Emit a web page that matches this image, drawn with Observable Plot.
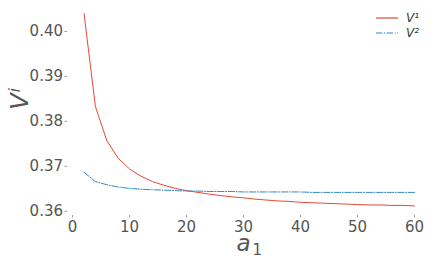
<!DOCTYPE html>
<html>
<head>
<meta charset="utf-8">
<script src="https://cdn.jsdelivr.net/npm/d3@7"></script>
<script src="https://cdn.jsdelivr.net/npm/@observablehq/plot@0.6"></script>
<style>
  html, body { margin: 0; padding: 0; background: #fff; }
  #wrap { position: relative; width: 435px; height: 262px; font-family: "DejaVu Sans", sans-serif; }
  #legend { position: absolute; left: 376px; top: 10px; font-size: 12px; font-style: italic; color: #333; }
  #legend .row { display: flex; align-items: center; height: 15px; }
  #legend svg { margin-right: 8px; }
</style>
</head>
<body>
<div id="wrap"></div>
<script>
const a1 = [2,4,6,8,10,12,14,16,18,20,22,24,26,28,30,32,34,36,38,40,42,44,46,48,50,52,54,56,58,60];
const v1 = [0.4040,0.3833,0.3757,0.3718,0.3694,0.3678,0.3666,0.3658,0.3651,0.3646,
            0.3642,0.3638,0.3635,0.3632,0.3630,0.3627,0.3625,0.3623,0.3622,0.3620,
            0.3619,0.3618,0.3617,0.3616,0.3615,0.3614,0.3614,0.3613,0.3613,0.3612];
const v2 = [0.3687,0.3666,0.3659,0.3654,0.3651,0.3649,0.3648,0.3647,0.3646,0.3645,
            0.3645,0.3644,0.3644,0.3644,0.3643,0.3643,0.3643,0.3643,0.3643,0.3643,
            0.3642,0.3642,0.3642,0.3642,0.3642,0.3642,0.3642,0.3642,0.3642,0.3642];
const xTicks = [0,10,20,30,40,50,60];
const yTicks = [0.36,0.37,0.38,0.39,0.40];
const seriesNames = ["V¹","V²"];
const colors = ["#E24A33","#348ABD"];
const yLabel = ["V", "i"];   // base, superscript
const xLabel = ["a", "1"];   // base, subscript

const d1 = a1.map((x,i)=>({x, y: v1[i]}));
const d2 = a1.map((x,i)=>({x, y: v2[i]}));

const chart = Plot.plot({
  width: 435, height: 262,
  marginLeft: 67, marginRight: 4.5, marginTop: 3.4, marginBottom: 47,
  style: {fontFamily: "DejaVu Sans, sans-serif", background: "#fff"},
  x: {domain: [-0.9, 62.9], axis: null},
  y: {domain: [0.35906, 0.40614], axis: null},
  marks: [
    Plot.axisX({ticks: xTicks, tickSize: 2.5, tickPadding: 3, fontSize: 15, color: "#555", stroke: "#999", label: null}),
    Plot.axisY({ticks: yTicks, tickFormat: d3.format(".2f"), tickSize: 2.5, tickPadding: 2, fontSize: 15, color: "#555", stroke: "#999", label: null}),
    Plot.line(d1, {x: "x", y: "y", stroke: colors[0], strokeWidth: 1}),
    Plot.line(d2, {x: "x", y: "y", stroke: colors[1], strokeWidth: 1, strokeDasharray: "6.4,1.6,1,1.6"}),
    Plot.text([yLabel.join("")], {frameAnchor: "left", dx: -47, rotate: -90, fontSize: 24, fontStyle: "italic", fill: "#555", className: "ylab"}),
    Plot.text([xLabel.join("")], {frameAnchor: "bottom", dy: 35, fontSize: 23, fontStyle: "italic", fill: "#555", className: "xlab"})
  ]
});
const wrap = document.getElementById("wrap");
wrap.appendChild(chart);

// rich text for axis labels
const yt = d3.select(chart).select(".ylab text");
yt.text(null);
yt.append("tspan").text(yLabel[0]);
yt.append("tspan").attr("font-size", 15).attr("dy", "-0.55em").attr("dx", "1").text(yLabel[1]);

const xt = d3.select(chart).select(".xlab text");
xt.text(null);
xt.append("tspan").text(xLabel[0]);
xt.append("tspan").attr("font-size", 15).attr("font-style", "normal").attr("dy", "0.3em").attr("dx", "2").text(xLabel[1]);

const legend = document.createElement("div");
legend.id = "legend";
seriesNames.forEach((name, i) => {
  const row = document.createElement("div");
  row.className = "row";
  row.innerHTML = `<svg width="22" height="4"><line x1="0" y1="2" x2="22" y2="2" stroke="${colors[i]}" stroke-width="1.2" ${i===1 ? 'stroke-dasharray="6.4,1.6,1,1.6"' : ''}/></svg><span>${name}</span>`;
  legend.appendChild(row);
});
wrap.appendChild(legend);
</script>
</body>
</html>
